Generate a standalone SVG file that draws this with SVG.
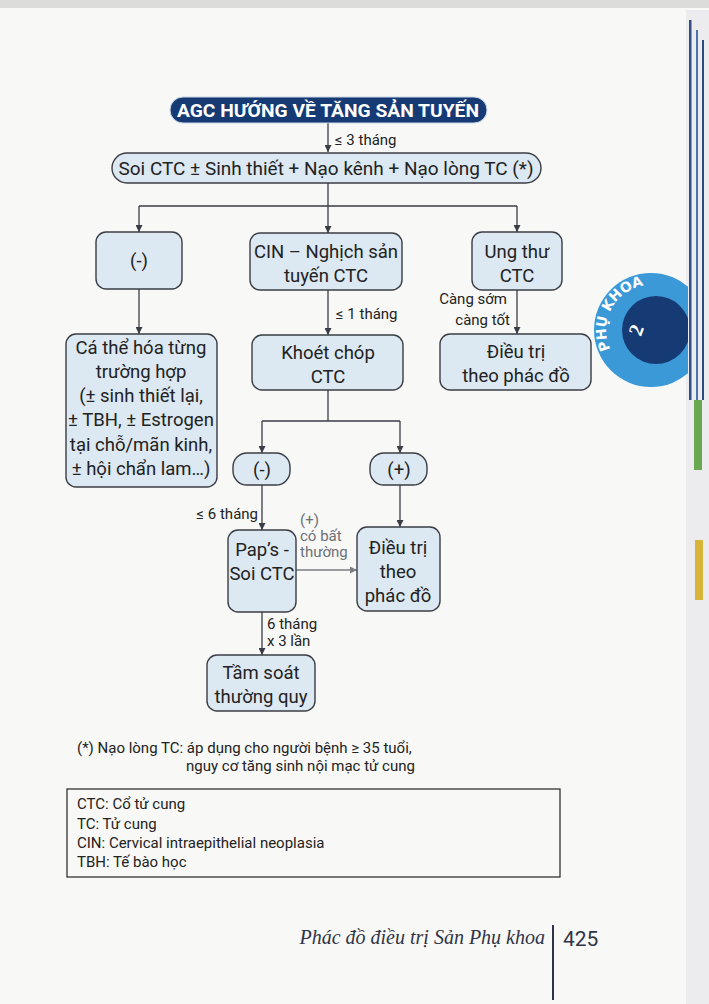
<svg xmlns="http://www.w3.org/2000/svg" width="709" height="1004" viewBox="0 0 709 1004">
<defs>
<marker id="ah" viewBox="0 0 10 10" refX="10" refY="5" markerWidth="7" markerHeight="7" orient="auto" markerUnits="userSpaceOnUse">
<path d="M0,0 L10,5 L0,10 z" fill="#3a3d45"/>
</marker>
<marker id="ahg" viewBox="0 0 10 10" refX="10" refY="5" markerWidth="7" markerHeight="7" orient="auto" markerUnits="userSpaceOnUse">
<path d="M0,0 L10,5 L0,10 z" fill="#7a7d84"/>
</marker>
<clipPath id="tabclip"><rect x="580" y="260" width="108" height="150"/></clipPath>
<path id="arcp" d="M619.2,361.8 A45,45 0 0 1 658.8,285.7"/>
</defs>
<style>
.bg{fill:#f8f8f6}
.box{fill:#dce8f2;stroke:#3a3d45;stroke-width:1.4}
.t{font-family:Roboto,"Noto Sans",sans-serif;font-size:18.5px;fill:#222;text-anchor:middle}
.lb{font-family:Roboto,"Noto Sans",sans-serif;font-size:15px;fill:#222}
.lbg{font-family:Roboto,"Noto Sans",sans-serif;font-size:15px;fill:#6d7077}
.fn{font-family:Roboto,"Noto Sans",sans-serif;font-size:15px;fill:#222}
.c{fill:none;stroke:#3a3d45;stroke-width:1.3}
.cg{fill:none;stroke:#7a7d84;stroke-width:1.3}
</style>
<rect class="bg" x="0" y="0" width="709" height="1004"/>
<rect x="0" y="0" width="709" height="8" fill="#dcdcda"/>
<g id="page-edge">
<rect x="686" y="10" width="23" height="994" fill="#ececee"/>
<rect x="689" y="20" width="2.5" height="380" fill="#2f4f86"/>
<rect x="696" y="30" width="2" height="370" fill="#4a74b0"/>
<rect x="702" y="40" width="2" height="360" fill="#2a4a80"/>
<rect x="694" y="400" width="8" height="70" fill="#6aa84f"/>
<rect x="695" y="540" width="8" height="60" fill="#d9b43a"/>
</g>
<g id="tab">
<g clip-path="url(#tabclip)">
<circle cx="651" cy="330" r="57" fill="#3b99d8"/>
<circle cx="656" cy="330" r="34" fill="#163a73"/>
</g>
<text font-family="'DejaVu Sans',sans-serif" font-weight="bold" font-size="14" fill="#ffffff" text-anchor="middle"><textPath href="#arcp" startOffset="50%">PHỤ KHOA</textPath></text>
<text x="636" y="337" font-family="'Liberation Serif',serif" font-weight="bold" font-size="20" fill="#ffffff" text-anchor="middle" transform="rotate(-70 636 330)">2</text>
</g>
<g id="connectors">
<line class="c" x1="328" y1="123" x2="328" y2="152" marker-end="url(#ah)"/>
<line class="c" x1="328" y1="183" x2="328" y2="206"/>
<polyline class="c" points="139,206 517,206"/>
<line class="c" x1="139" y1="206" x2="139" y2="232" marker-end="url(#ah)"/>
<line class="c" x1="328" y1="206" x2="328" y2="233" marker-end="url(#ah)"/>
<line class="c" x1="517" y1="206" x2="517" y2="232" marker-end="url(#ah)"/>
<line class="c" x1="139" y1="289" x2="139" y2="334" marker-end="url(#ah)"/>
<line class="c" x1="328" y1="290" x2="328" y2="335" marker-end="url(#ah)"/>
<line class="c" x1="517" y1="290" x2="517" y2="334" marker-end="url(#ah)"/>
<line class="c" x1="328" y1="390" x2="328" y2="421"/>
<polyline class="c" points="262,421 400,421"/>
<line class="c" x1="262" y1="421" x2="262" y2="453" marker-end="url(#ah)"/>
<line class="c" x1="400" y1="421" x2="400" y2="453" marker-end="url(#ah)"/>
<line class="c" x1="262" y1="485" x2="262" y2="530" marker-end="url(#ah)"/>
<line class="c" x1="400" y1="485" x2="400" y2="527" marker-end="url(#ah)"/>
<line class="cg" x1="296" y1="570" x2="357" y2="570" marker-end="url(#ahg)"/>
<line class="c" x1="262" y1="612" x2="262" y2="655" marker-end="url(#ah)"/>
<text class="lb" x="335" y="145">≤ 3 tháng</text>
<text class="lb" x="336" y="319">≤ 1 tháng</text>
<text class="lb" x="507" y="304" text-anchor="end">Càng sớm</text>
<text class="lb" x="510" y="325" text-anchor="end">càng tốt</text>
<text class="lb" x="258" y="519" text-anchor="end">≤ 6 tháng</text>
<text class="lbg" x="300" y="525">(+)</text>
<text class="lbg" x="300" y="541">có bất</text>
<text class="lbg" x="300" y="557">thường</text>
<text class="lb" x="267" y="629">6 tháng</text>
<text class="lb" x="267" y="646">x 3 lần</text>
</g>
<g id="n-title">
<rect x="170" y="97" width="317" height="26" rx="13" fill="#163a73" stroke="#c9d6e6" stroke-width="1"/>
<text x="328" y="117" font-family="Roboto,'Noto Sans',sans-serif" font-weight="bold" font-size="18.5" fill="#ffffff" text-anchor="middle" textLength="302" lengthAdjust="spacingAndGlyphs">AGC HƯỚNG VỀ TĂNG SẢN TUYẾN</text>
</g>
<g id="n-soi">
<rect class="box" x="112" y="153" width="429" height="30" rx="15"/>
<text class="t" x="326" y="175" font-size="19" textLength="415" lengthAdjust="spacingAndGlyphs">Soi CTC ± Sinh thiết + Nạo kênh + Nạo lòng TC (*)</text>
</g>
<g id="n-neg1">
<rect class="box" x="96" y="232" width="86" height="57" rx="10"/>
<text class="t" x="139" y="267">(-)</text>
</g>
<g id="n-cin">
<rect class="box" x="250" y="233" width="152" height="57" rx="10"/>
<text class="t" x="326" y="258">CIN – Nghịch sản</text>
<text class="t" x="326" y="282">tuyến CTC</text>
</g>
<g id="n-ungthu">
<rect class="box" x="472" y="232" width="90" height="58" rx="10"/>
<text class="t" x="517" y="258">Ung thư</text>
<text class="t" x="517" y="282">CTC</text>
</g>
<g id="n-cathe">
<rect class="box" x="66" y="334" width="151" height="153" rx="10"/>
<text class="t" x="141" y="354">Cá thể hóa từng</text>
<text class="t" x="141" y="378">trường hợp</text>
<text class="t" x="141" y="402">(± sinh thiết lại,</text>
<text class="t" x="141" y="426">± TBH, ± Estrogen</text>
<text class="t" x="141" y="451">tại chỗ/mãn kinh,</text>
<text class="t" x="141" y="475">± hội chẩn lam…)</text>
</g>
<g id="n-khoet">
<rect class="box" x="252" y="335" width="151" height="55" rx="10"/>
<text class="t" x="328" y="359">Khoét chóp</text>
<text class="t" x="328" y="383">CTC</text>
</g>
<g id="n-dieutri1">
<rect class="box" x="440" y="334" width="151" height="56" rx="10"/>
<text class="t" x="516" y="358">Điều trị</text>
<text class="t" x="516" y="382">theo phác đồ</text>
</g>
<g id="n-neg2">
<rect class="box" x="233" y="453" width="57" height="32" rx="14"/>
<text class="t" x="262" y="476">(-)</text>
</g>
<g id="n-pos">
<rect class="box" x="370" y="453" width="57" height="32" rx="14"/>
<text class="t" x="399" y="476">(+)</text>
</g>
<g id="n-paps">
<rect class="box" x="228" y="530" width="68" height="82" rx="10"/>
<text class="t" x="262" y="556">Pap’s -</text>
<text class="t" x="262" y="580">Soi CTC</text>
</g>
<g id="n-dieutri2">
<rect class="box" x="357" y="527" width="83" height="84" rx="10"/>
<text class="t" x="398" y="554">Điều trị</text>
<text class="t" x="398" y="578">theo</text>
<text class="t" x="398" y="602">phác đồ</text>
</g>
<g id="n-tamsoat">
<rect class="box" x="207" y="655" width="108" height="56" rx="10"/>
<text class="t" x="261" y="679">Tầm soát</text>
<text class="t" x="261" y="703">thường quy</text>
</g>
<g id="footnote">
<text class="fn" x="77" y="753">(*) Nạo lòng TC: áp dụng cho người bệnh  ≥ 35 tuổi,</text>
<text class="fn" x="186" y="771">nguy cơ tăng sinh nội mạc tử cung</text>
</g>
<g id="legend">
<rect x="67" y="789" width="493" height="88" fill="none" stroke="#333" stroke-width="1.3"/>
<text class="fn" x="77" y="809">CTC: Cổ tử cung</text>
<text class="fn" x="77" y="829">TC: Tử cung</text>
<text class="fn" x="77" y="848">CIN: Cervical intraepithelial neoplasia</text>
<text class="fn" x="77" y="867">TBH: Tế bào học</text>
</g>
<g id="footer">
<text x="545" y="944" font-family="'Liberation Serif',serif" font-style="italic" font-size="20" fill="#2f3448" text-anchor="end">Phác đồ điều trị Sản Phụ khoa</text>
<line x1="553" y1="925" x2="553" y2="1000" stroke="#2f3448" stroke-width="2"/>
<text x="563" y="946" font-family="Roboto,'Noto Sans',sans-serif" font-size="21" fill="#2f3448">425</text>
</g>
</svg>
